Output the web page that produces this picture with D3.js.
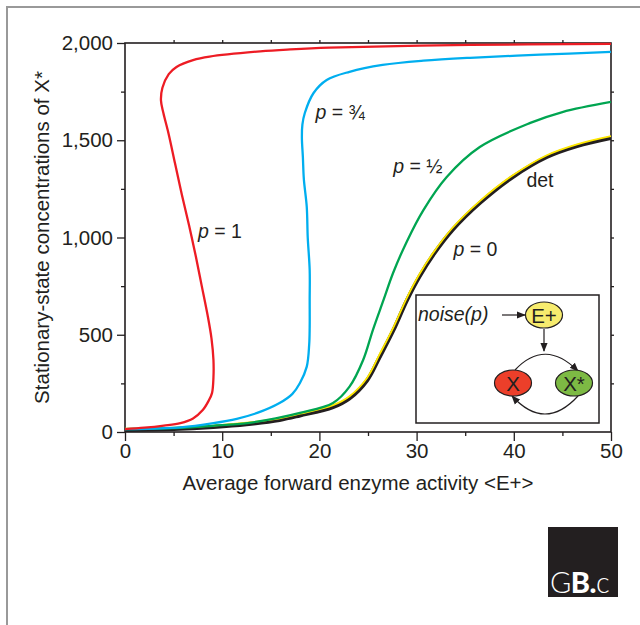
<!DOCTYPE html>
<html>
<head>
<meta charset="utf-8">
<script src="https://cdn.jsdelivr.net/npm/d3@7"></script>
<style>
  body { margin: 0; background: #fff; }
  text { font-family: "Liberation Sans", Arial, Helvetica, sans-serif; fill: #231f20; }
</style>
</head>
<body>
<div id="container"></div>
<script>
/* CONSTANTS AND GLOBALS */
const width = 640;
const height = 625;
const margin = { top: 43, right: 29, bottom: 193, left: 125 };

/* DATA */
const xTicks = [0, 10, 20, 30, 40, 50];
const yTicks = [0, 500, 1000, 1500, 2000];

// [<E+>, X*] points, each curve in drawing order along the curve
const curveP1 = [[0,15],[2,22],[4,33],[5.7,46],[7,70],[8,113],[8.6,160],[8.95,200],[9.1,280],[9.1,370],
  [8.9,480],[8.5,600],[7.9,750],[7.3,900],[6.6,1060],[5.85,1220],[5.15,1380],[4.5,1530],[3.95,1640],[3.7,1705],
  [3.85,1770],[4.5,1840],[5.3,1877],[7,1912],[8.7,1930],[13.9,1957],[17,1967],[21,1976],[35.5,1990],[50,1995]];
const curveP34 = [[0,15],[3,18],[5.7,24],[9.1,46],[11.5,68],[13.6,98],[15.9,149],[17.2,195],[18,252],
  [18.7,336],[18.95,450],[19.0,540],[19.0,679],[19.0,833],[18.8,1000],[18.7,1157],[18.4,1300],[18.3,1414],
  [18.2,1510],[18.25,1580],[18.5,1640],[19.4,1743],[20.75,1810],[23.1,1852],[26.5,1887],[30.7,1909],
  [35.5,1924],[42.7,1940],[50,1954]];
const curveP12 = [[0,15],[5.7,21],[9,32],[12.6,46],[15.5,70],[18,98],[21.4,149],[23.1,233],[24.5,370],
  [25.5,524],[26.6,679],[27.6,820],[29.0,980],[30.7,1141],[33.1,1311],[36.5,1465],[41.7,1589],[45,1645],[50,1697]];
const curveDet = [[0,10],[5,15],[9.1,26],[12.5,40],[15.9,62],[18,85],[21.4,128],[23.1,173],[24.9,265],
  [26.2,385],[27.6,522],[29.0,677],[30.3,800],[31.7,910],[33.7,1039],[36.5,1177],[39.9,1311],[43.4,1414],
  [46.5,1470],[50,1512]];
const curveP0 = [[0,17],[5,22],[9.1,33],[12.5,48],[15.9,70],[18,94],[21.4,138],[23.1,184],[24.9,278],
  [26.2,400],[27.6,537],[29.0,690],[30.3,812],[31.7,921],[33.7,1050],[36.5,1187],[39.9,1320],[43.4,1423],
  [46.5,1479],[50,1521]];

const series = [
  { name: "det", data: curveDet, color: "#231f20", w: 4 },
  { name: "p0", data: curveP0, color: "#ffe800", w: 1.8 },
  { name: "p12", data: curveP12, color: "#00a551", w: 2.3 },
  { name: "p34", data: curveP34, color: "#00aeef", w: 2.3 },
  { name: "p1", data: curveP1, color: "#ed1c24", w: 2.3 }
];

/* SCALES */
const xScale = d3.scaleLinear().domain([0, 50]).range([margin.left, width - margin.right]);
const yScale = d3.scaleLinear().domain([0, 2000]).range([height - margin.bottom, margin.top]);

const svg = d3.select("#container").append("svg")
  .attr("width", width).attr("height", height);

// grey page frame
svg.append("path").attr("d", "M7,625 V7 H640")
  .attr("fill", "none").attr("stroke", "#999").attr("stroke-width", 2);

/* AXES */
const x0 = xScale(0), x1 = xScale(50), y0 = yScale(0), y1 = yScale(2000);

function styleAxis(g) {
  g.selectAll("path, line").attr("stroke", "#231f20").attr("stroke-width", 1.3);
  g.select(".domain").remove();
  g.selectAll("text").style("font-size", "20.5px").attr("fill", "#231f20");
}

// minor ticks
svg.append("g").attr("transform", `translate(0,${y0})`)
  .call(d3.axisBottom(xScale).tickValues(d3.range(5, 50, 10)).tickSize(4).tickFormat(""))
  .call(styleAxis);
svg.append("g").attr("transform", `translate(${x0},0)`)
  .call(d3.axisLeft(yScale).tickValues(d3.range(250, 2000, 500)).tickSize(4).tickFormat(""))
  .call(styleAxis);
// mirrored ticks on top and right
svg.append("g").attr("transform", `translate(0,${y1})`)
  .call(d3.axisTop(xScale).tickValues(d3.range(5, 50, 5)).tickSize(3).tickFormat(""))
  .call(styleAxis);
svg.append("g").attr("transform", `translate(${x1},0)`)
  .call(d3.axisRight(yScale).tickValues(d3.range(250, 2000, 250)).tickSize(3).tickFormat(""))
  .call(styleAxis);
// major ticks with labels
svg.append("g").attr("transform", `translate(0,${y0})`)
  .call(d3.axisBottom(xScale).tickValues(xTicks).tickSize(9).tickPadding(2))
  .call(styleAxis);
svg.append("g").attr("transform", `translate(${x0},0)`)
  .call(d3.axisLeft(yScale).tickValues(yTicks).tickSize(8).tickPadding(4).tickFormat(d3.format(",")))
  .call(styleAxis);

// frame of the plot
svg.append("rect")
  .attr("x", x0).attr("y", y1).attr("width", x1 - x0).attr("height", y0 - y1)
  .attr("fill", "none").attr("stroke", "#231f20").attr("stroke-width", 1.6);

/* CURVES */
svg.append("clipPath").attr("id", "plotclip").append("rect")
  .attr("x", x0).attr("y", y1 - 2).attr("width", x1 - x0).attr("height", y0 - y1 + 2);

const line = d3.line()
  .x(d => xScale(d[0]))
  .y(d => yScale(d[1]))
  .curve(d3.curveCatmullRom.alpha(0.5));

svg.append("g").attr("clip-path", "url(#plotclip)")
  .selectAll("path")
  .data(series)
  .join("path")
  .attr("d", d => line(d.data))
  .attr("fill", "none")
  .attr("stroke", d => d.color)
  .attr("stroke-width", d => d.w)
  .attr("stroke-linejoin", "round");

/* CURVE LABELS */
const labels = [
  { t: "1", x: 7.5, y: 1000 },
  { t: "\u00be", x: 19.6, y: 1610 },
  { t: "\u00bd", x: 27.6, y: 1330 },
  { t: "0", x: 33.8, y: 905 }
];
labels.forEach(l => {
  const tx = svg.append("text")
    .attr("x", xScale(l.x)).attr("y", yScale(l.y))
    .style("font-size", "19.5px");
  tx.append("tspan").style("font-style", "italic").text("p");
  tx.append("tspan").text(" = " + l.t);
});
svg.append("text").attr("x", xScale(41.3)).attr("y", yScale(1260))
  .style("font-size", "19.5px").text("det");

/* AXIS TITLES */
svg.append("text")
  .attr("x", 358).attr("y", 490)
  .attr("text-anchor", "middle").style("font-size", "20.5px")
  .text("Average forward enzyme activity <E+>");
svg.append("text")
  .attr("transform", `translate(49,${(y0 + y1) / 2}) rotate(-90)`)
  .attr("text-anchor", "middle").style("font-size", "20.5px")
  .text("Stationary-state concentrations of X*");

/* INSET SCHEMATIC */
const defs = svg.append("defs");
defs.append("marker").attr("id", "arrow")
  .attr("viewBox", "0 0 10 10").attr("refX", 9).attr("refY", 5)
  .attr("markerWidth", 9).attr("markerHeight", 9).attr("markerUnits", "userSpaceOnUse")
  .attr("orient", "auto")
  .append("path").attr("d", "M0,1 L10,5 L0,9 Z").attr("fill", "#231f20");

const inset = svg.append("g");
inset.append("rect").attr("x", 416).attr("y", 295).attr("width", 183).attr("height", 128)
  .attr("fill", "#fff").attr("stroke", "#231f20").attr("stroke-width", 1.5);
inset.append("text").attr("x", 418).attr("y", 321)
  .style("font-size", "19.5px").style("font-style", "italic").text("noise(p)");

const arrowStyle = s => s.attr("fill", "none").attr("stroke", "#231f20")
  .attr("stroke-width", 1.2).attr("marker-end", "url(#arrow)");

inset.append("line").attr("x1", 502).attr("y1", 315).attr("x2", 525).attr("y2", 315).call(arrowStyle);
inset.append("line").attr("x1", 544).attr("y1", 329).attr("x2", 544).attr("y2", 351).call(arrowStyle);
inset.append("path").attr("d", "M515,370 Q545,338 578,371").call(arrowStyle);
inset.append("path").attr("d", "M578,396 Q545,432 512,396").call(arrowStyle);

const nodes = [
  { label: "E+", cx: 544, cy: 315, fill: "#f7ec6e" },
  { label: "X", cx: 513, cy: 383, fill: "#ec3f2a" },
  { label: "X*", cx: 574, cy: 383, fill: "#7dba44" }
];
nodes.forEach(n => {
  inset.append("ellipse").attr("cx", n.cx).attr("cy", n.cy).attr("rx", 18.5).attr("ry", 13)
    .attr("fill", n.fill).attr("stroke", "#231f20").attr("stroke-width", 1.2);
  inset.append("text").attr("x", n.cx).attr("y", n.cy + 7.5)
    .attr("text-anchor", "middle").style("font-size", "20.5px").text(n.label);
});

/* LOGO */
svg.append("rect").attr("x", 548).attr("y", 527).attr("width", 70).attr("height", 70).attr("fill", "#231f20");
const logo = svg.append("text").attr("x", 550).attr("y", 593)
  .style("font-family", "Lato, 'Open Sans', sans-serif")
  .style("font-size", "29px").style("letter-spacing", "-0.5px");
logo.append("tspan").style("fill", "#fff").style("font-weight", 300).text("G");
logo.append("tspan").style("fill", "#fff").style("font-weight", 900).text("B");
logo.append("tspan").style("fill", "#fff").style("font-weight", 900).text(".");
logo.append("tspan").style("fill", "#fff").style("font-weight", 300).text("c");
</script>
</body>
</html>
